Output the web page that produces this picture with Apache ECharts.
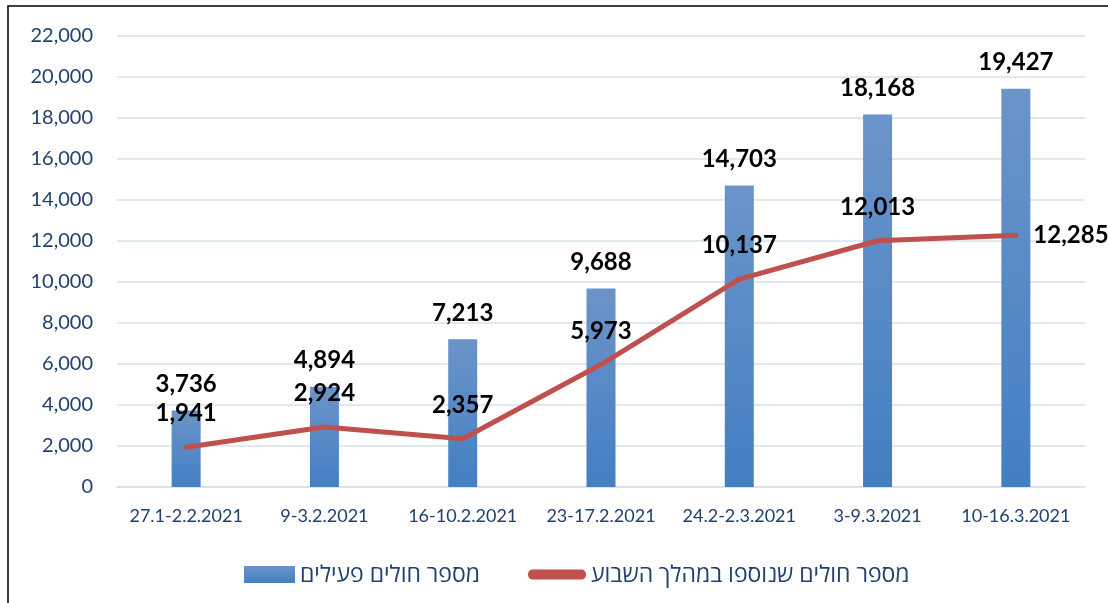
<!DOCTYPE html>
<html>
<head>
<meta charset="utf-8">
<script src="https://cdn.jsdelivr.net/npm/echarts@6/dist/echarts.min.js"></script>
<style>
html, body { margin: 0; padding: 0; background: #fff; }
#chart { width: 1108px; height: 603px; }
</style>
</head>
<body>
<div id="chart"></div>
<script>
var weeks = ['27.1-2.2.2021', '9-3.2.2021', '16-10.2.2021', '23-17.2.2021', '24.2-2.3.2021', '3-9.3.2021', '10-16.3.2021']
var activeCases = [3736, 4894, 7213, 9688, 14703, 18168, 19427]
var newCases = [1941, 2924, 2357, 5973, 10137, 12013, 12285]
var barName = 'מספר חולים פעילים'
var lineName = 'מספר חולים שנוספו במהלך השבוע'

var fontName = 'Lato, "Open Sans", sans-serif'
var axisColor = '#21426f'
var lineColor = '#c0504d'

function fmt(p) {
  return p.value.toLocaleString('en-US')
}

// last point label sits to the right of the line end
var lineData = newCases.map(function (v, i) {
  if (i === newCases.length - 1) {
    return { value: v, label: { position: 'right', distance: 16 } }
  }
  return v
})

var chart = echarts.init(document.getElementById('chart'))
chart.setOption({
  animation: false,
  backgroundColor: '#fff',
  textStyle: { fontFamily: fontName },
  graphic: [{
    type: 'rect',
    shape: { x: 8, y: 6, width: 1120, height: 620 },
    style: { fill: 'none', stroke: '#000', lineWidth: 1.5 },
    silent: true
  }],
  grid: { left: 117, right: 23, top: 36, bottom: 116 },
  legend: [{
    top: 558,
    left: 239,
    itemWidth: 51,
    itemHeight: 17,
    itemGap: 6,
    textStyle: { fontSize: 23, color: axisColor, fontFamily: fontName },
    data: [{ name: barName, icon: 'rect' }]
  }, {
    top: 558,
    left: 523,
    itemWidth: 58,
    itemHeight: 10,
    textStyle: { fontSize: 23, color: axisColor, fontFamily: fontName },
    data: [{
      name: lineName,
      icon: 'path://M5,0 L53,0 C56,0 58,2 58,5 C58,8 56,10 53,10 L5,10 C2,10 0,8 0,5 C0,2 2,0 5,0 Z',
      itemStyle: { color: lineColor, opacity: 1 }
    }]
  }],
  xAxis: {
    type: 'category',
    data: weeks,
    axisLine: { lineStyle: { color: '#d6e0ee', width: 1.5 } },
    axisTick: { show: false },
    axisLabel: { color: axisColor, fontSize: 18, margin: 20, interval: 0 }
  },
  yAxis: {
    type: 'value',
    min: 0,
    max: 22000,
    interval: 2000,
    axisLine: { show: false },
    axisTick: { show: false },
    splitLine: { lineStyle: { color: '#d6e0ee', width: 1.5 } },
    axisLabel: {
      color: axisColor,
      fontSize: 20,
      margin: 24,
      formatter: function (v) { return v.toLocaleString('en-US') }
    }
  },
  series: [{
    name: barName,
    type: 'bar',
    data: activeCases,
    barWidth: 29,
    itemStyle: {
      color: new echarts.graphic.LinearGradient(0, 0, 0, 1, [
        { offset: 0, color: '#6b94c9' },
        { offset: 1, color: '#437fc3' }
      ])
    },
    label: {
      show: true,
      position: 'top',
      distance: 14,
      color: '#000',
      fontWeight: 'bold',
      fontSize: 24,
      formatter: fmt
    }
  }, {
    name: lineName,
    type: 'line',
    data: lineData,
    symbol: 'circle',
    symbolSize: 3,
    showSymbol: true,
    lineStyle: { color: lineColor, width: 5, cap: 'round' },
    itemStyle: { color: lineColor },
    label: {
      show: true,
      position: 'top',
      distance: 20,
      color: '#000',
      fontWeight: 'bold',
      fontSize: 24,
      formatter: fmt
    }
  }]
})
</script>
</body>
</html>
